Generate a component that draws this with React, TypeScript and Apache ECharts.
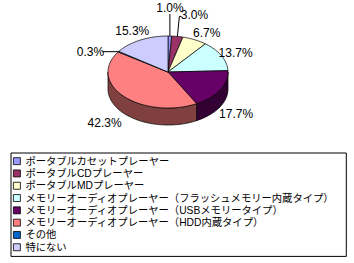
import React, { useEffect, useRef } from "react";
import * as echarts from "echarts";

const CATEGORIES = [
  "ポータブルカセットプレーヤー",
  "ポータブルCDプレーヤー",
  "ポータブルMDプレーヤー",
  "メモリーオーディオプレーヤー（フラッシュメモリー内蔵タイプ）",
  "メモリーオーディオプレーヤー（USBメモリータイプ）",
  "メモリーオーディオプレーヤー（HDD内蔵タイプ）",
  "その他",
  "特にない",
];
const VALUES = [1.0, 3.0, 6.7, 13.7, 17.7, 42.3, 0.3, 15.3];
const COLORS = ["#9999FF", "#993366", "#FFFFCC", "#CCFFFF", "#660066", "#FF8080", "#0066CC", "#CCCCFF"];

// styling / layout
const CX = 168, CY = 72, RX = 60, RY = 36, DEPTH = 17;
const LABEL_NUDGE: [number, number][] = [
  [0, -28], [17, -21], [12, -7], [14, -3], [16, 24], [-19, 27], [-28, 0], [-8, -9],
];
const LEADER = [true, true, false, false, false, false, true, false];

function darken(hex: string, f: number) {
  const n = parseInt(hex.slice(1), 16);
  const r = Math.round(((n >> 16) & 255) * f);
  const g = Math.round(((n >> 8) & 255) * f);
  const b = Math.round((n & 255) * f);
  return `rgb(${r},${g},${b})`;
}

function pt(a: number, dy: number): number[] {
  const r = (a * Math.PI) / 180;
  return [CX + RX * Math.sin(r), CY - RY * Math.cos(r) + dy];
}

function arcPts(a1: number, a2: number, dy: number) {
  const n = Math.max(2, Math.ceil((a2 - a1) / 2));
  const out: number[][] = [];
  for (let k = 0; k <= n; k++) out.push(pt(a1 + ((a2 - a1) * k) / n, dy));
  return out;
}

const TOTAL = VALUES.reduce((s, v) => s + v, 0);

function makeRender(i: number) {
  return (_params: any, _api: any) => {
    const before = VALUES.slice(0, i).reduce((s, v) => s + v, 0);
    const a1 = (before / TOTAL) * 360;
    const a2 = ((before + VALUES[i]) / TOTAL) * 360;
    const children: any[] = [];
    const s = Math.max(a1, 90), e = Math.min(a2, 270);
    if (e > s) {
      const top = arcPts(s, e, 0);
      const bot = arcPts(s, e, DEPTH).reverse();
      children.push({
        type: "polygon",
        z2: 1,
        shape: { points: top.concat(bot) },
        style: { fill: darken(COLORS[i], 0.5), stroke: "#000", lineWidth: 0.7 },
      });
    }
    children.push({
      type: "polygon",
      z2: 10,
      shape: { points: [[CX, CY]].concat(arcPts(a1, a2, 0)) },
      style: { fill: COLORS[i], stroke: "#000", lineWidth: 0.7 },
    });
    const mid = (a1 + a2) / 2;
    const anchor = pt(mid, 0);
    const lx = anchor[0] + LABEL_NUDGE[i][0];
    const ly = anchor[1] + LABEL_NUDGE[i][1];
    children.push({
      type: "text",
      z2: 20,
      x: lx,
      y: ly,
      style: {
        text: VALUES[i].toFixed(1) + "%",
        fill: "#000",
        align: "center",
        verticalAlign: "middle",
        fontSize: 12,
        fontFamily: '"Liberation Sans Narrow", "Arial Narrow", "Liberation Sans", Arial, sans-serif',
      },
    });
    if (LEADER[i]) {
      let pts: number[][];
      if (Math.abs(LABEL_NUDGE[i][0]) > Math.abs(LABEL_NUDGE[i][1])) {
        if (LABEL_NUDGE[i][0] < 0) pts = [anchor, [lx + 12, ly]];
        else pts = [anchor, [anchor[0] + 2, ly + 1], [lx - 13, ly + 1]];
      } else if (Math.abs(LABEL_NUDGE[i][0]) > 5) {
        pts = [anchor, [anchor[0] + 2, ly + 1], [lx - 13, ly + 1]];
      } else {
        pts = [anchor, [anchor[0], ly + 6]];
      }
      children.push({
        type: "polyline",
        z2: 20,
        shape: { points: pts },
        style: { stroke: "#000", lineWidth: 1, fill: null },
      });
    }
    return { type: "group", children };
  };
}

export default function App() {
  const ref = useRef<HTMLDivElement>(null);
  useEffect(() => {
    if (!ref.current) return;
    const chart = echarts.init(ref.current, undefined, { renderer: "svg" });
    chart.setOption({
      animation: false,
      backgroundColor: "#fff",
      legend: {
        orient: "vertical",
        left: 11,
        top: 153,
        padding: [2, 12, 3, 2],
        itemWidth: 7,
        itemHeight: 7,
        itemGap: 0,
        icon: "rect",
        borderColor: "#000",
        borderWidth: 1,
        selectedMode: false,
        itemStyle: { borderColor: "#000", borderWidth: 0.8 },
        textStyle: {
          fontFamily: '"Liberation Sans", "Noto Sans CJK JP", sans-serif',
          fontSize: 10.3,
          color: "#000",
          lineHeight: 12.3,
        },
        data: CATEGORIES,
      },
      series: CATEGORIES.map((name, i) => ({
        type: "custom",
        name,
        coordinateSystem: "none",
        silent: true,
        itemStyle: { color: COLORS[i] },
        data: [VALUES[i]],
        renderItem: makeRender(i),
      })),
    });
    return () => chart.dispose();
  }, []);
  return (
    <div
      ref={ref}
      style={{ position: "fixed", left: 0, top: 0, width: 354, height: 263 }}
    />
  );
}
